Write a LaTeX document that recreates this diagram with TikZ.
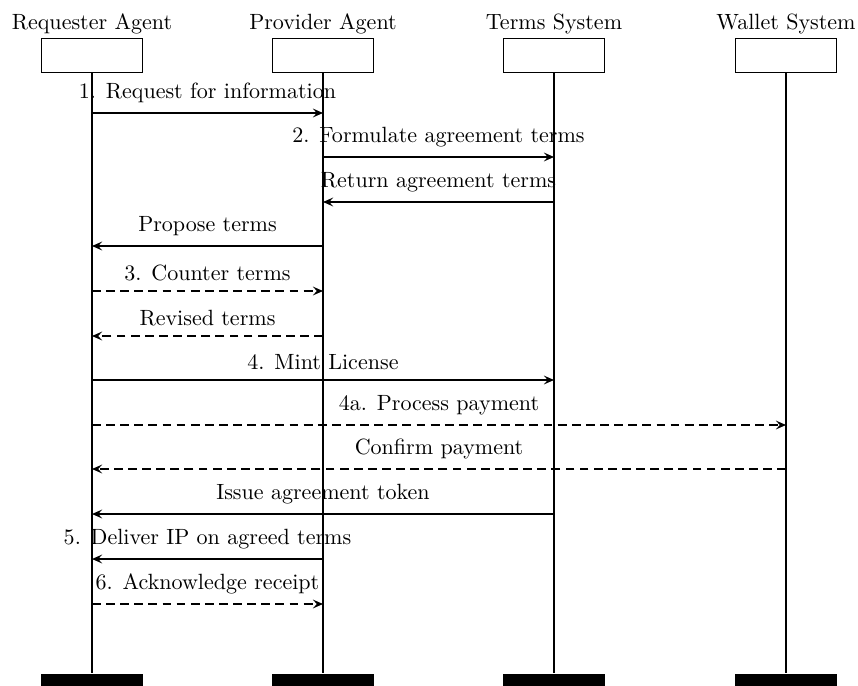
\documentclass[tikz,border=0pt]{standalone}
\usetikzlibrary{arrows.meta,calc}
\begin{document}
\begin{tikzpicture}[x=0.4535pt,y=-0.4535pt,line width=0.6pt,
  head/.style={draw,rectangle,inner sep=0pt,minimum width=45.6pt,minimum height=15.4pt},
  foot/.style={fill=black,rectangle,inner sep=0pt,minimum width=46.3pt,minimum height=10pt},
  actor/.style={anchor=base,inner sep=0pt},
  lifeline/.style={line width=0.65pt},
  msg/.style={-{Stealth[length=4.6pt,width=4pt,inset=1.8pt]},line width=0.65pt},
  rmsg/.style={msg,dash pattern=on 4pt off 2.4pt},
  mlabel/.style={anchor=south,inner sep=0pt,yshift=4.3pt}]
\useasboundingbox (0,0) rectangle (858,685);
% heads
\node[head] (RA) at (92,55.5) {};
\node[head] (PA) at (323,55.5) {};
\node[head] (TS) at (554,55.5) {};
\node[head] (WS) at (786,55.5) {};
\node[actor] (RAl) at (92,30) {Requester Agent};
\node[actor] (PAl) at (323,30) {Provider Agent};
\node[actor] (TSl) at (554,30) {Terms System};
\node[actor] (WSl) at (786,30) {Wallet System};
% feet
\node[foot] (RAf) at (92,685) {};
\node[foot] (PAf) at (323,685) {};
\node[foot] (TSf) at (554,685) {};
\node[foot] (WSf) at (786,685) {};
% lifelines
\draw[lifeline] (RA.south) -- (RAf.north);
\draw[lifeline] (PA.south) -- (PAf.north);
\draw[lifeline] (TS.south) -- (TSf.north);
\draw[lifeline] (WS.south) -- (WSf.north);
% rows
\coordinate (y1) at (0,113);
\coordinate (y2) at (0,157);
\coordinate (y3) at (0,202);
\coordinate (y4) at (0,246);
\coordinate (y5) at (0,291);
\coordinate (y6) at (0,336);
\coordinate (y7) at (0,380);
\coordinate (y8) at (0,425);
\coordinate (y9) at (0,469);
\coordinate (y10) at (0,514);
\coordinate (y11) at (0,559);
\coordinate (y12) at (0,604);
% messages
\draw[msg] (RA |- y1) -- (PA |- y1) node[mlabel,pos=0.5] (m1) {1. Request for information};
\draw[msg] (PA |- y2) -- (TS |- y2) node[mlabel,pos=0.5] (m2) {2. Formulate agreement terms};
\draw[msg] (TS |- y3) -- (PA |- y3) node[mlabel,pos=0.5] (m3) {Return agreement terms};
\draw[msg] (PA |- y4) -- (RA |- y4) node[mlabel,pos=0.5] (m4) {Propose terms};
\draw[rmsg] (RA |- y5) -- (PA |- y5) node[mlabel,pos=0.5] (m5) {3. Counter terms};
\draw[rmsg] (PA |- y6) -- (RA |- y6) node[mlabel,pos=0.5] (m6) {Revised terms};
\draw[msg] (RA |- y7) -- (TS |- y7) node[mlabel,pos=0.5] (m7) {4. Mint License};
\draw[rmsg] (RA |- y8) -- (WS |- y8) node[mlabel,pos=0.5] (m8) {4a. Process payment};
\draw[rmsg] (WS |- y9) -- (RA |- y9) node[mlabel,pos=0.5] (m9) {Confirm payment};
\draw[msg] (TS |- y10) -- (RA |- y10) node[mlabel,pos=0.5] (m10) {Issue agreement token};
\draw[msg] (PA |- y11) -- (RA |- y11) node[mlabel,pos=0.5] (m11) {5. Deliver IP on agreed terms};
\draw[rmsg] (RA |- y12) -- (PA |- y12) node[mlabel,pos=0.5] (m12) {6. Acknowledge receipt};
\end{tikzpicture}
\end{document}
